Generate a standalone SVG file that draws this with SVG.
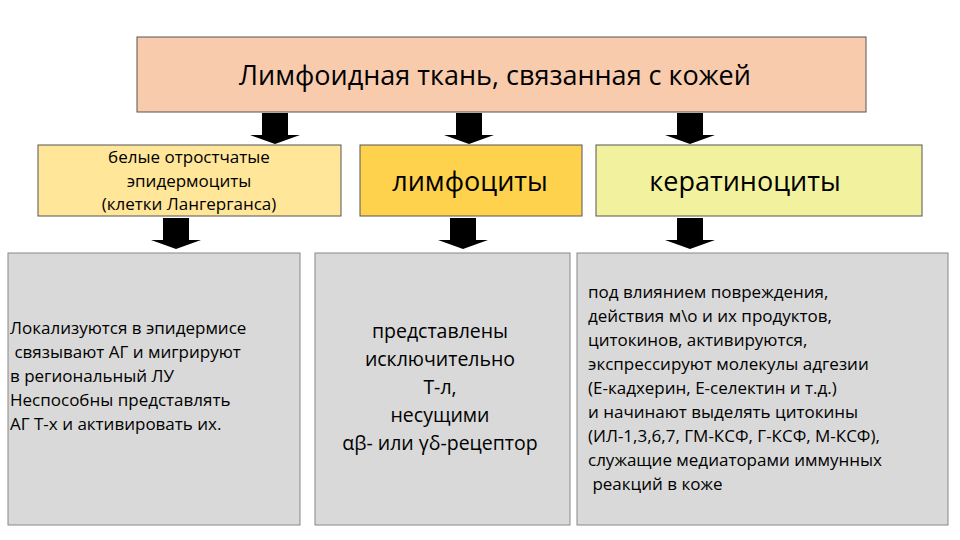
<svg xmlns="http://www.w3.org/2000/svg" width="960" height="540" viewBox="0 0 960 540">
<style>
rect{stroke:#555;stroke-width:1}
text{font-family:"Open Sans","Noto Sans","Liberation Sans",sans-serif;fill:#000}
.g{fill:#D9D9D9;stroke:#888}
.a{fill:#000}
</style>
<defs><path id="ar" d="M-13,0h26v22h12l-25,9l-25,-9h12z" class="a"/></defs>
<rect width="960" height="540" fill="#fff" style="stroke:none"/>
<g id="top"><rect x="137" y="37" width="729" height="75" fill="#F8CBAD"/>
<text x="495" y="85" font-size="27" text-anchor="middle">Лимфоидная ткань, связанная с кожей</text></g>
<g id="connectors">
<use href="#ar" x="275" y="113"/><use href="#ar" x="469" y="113"/><use href="#ar" x="690" y="113"/>
<use href="#ar" x="176" y="218"/><use href="#ar" x="463" y="218"/><use href="#ar" x="690" y="218"/>
</g>
<g id="langerhans"><rect x="38" y="145" width="303" height="71" fill="#FFE699"/>
<text font-size="17" text-anchor="middle"><tspan x="189" y="163">белые отростчатые</tspan><tspan x="189" y="187">эпидермоциты</tspan><tspan x="189" y="210">(клетки Лангерганса)</tspan></text></g>
<g id="lymph"><rect x="360" y="145" width="222" height="71" fill="#FFD24D"/>
<text x="470" y="191" font-size="27" text-anchor="middle">лимфоциты</text></g>
<g id="kerat"><rect x="596" y="145" width="326" height="71" fill="#F2F29E"/>
<text x="745" y="191" font-size="27" text-anchor="middle">кератиноциты</text></g>
<g id="left"><rect class="g" x="8" y="253" width="292" height="272"/>
<text font-size="17"><tspan x="10" y="334">Локализуются в эпидермисе</tspan><tspan x="10" y="358"> связывают АГ и мигрируют</tspan><tspan x="10" y="382">в региональный ЛУ</tspan><tspan x="10" y="406">Неспособны представлять</tspan><tspan x="10" y="430">АГ Т-х и  активировать их.</tspan></text></g>
<g id="mid"><rect class="g" x="315" y="253" width="255" height="272"/>
<text font-size="19.5" text-anchor="middle"><tspan x="440" y="338">представлены</tspan><tspan x="440" y="366">исключительно</tspan><tspan x="440" y="394">Т-л,</tspan><tspan x="440" y="422">несущими</tspan><tspan x="440" y="450">αβ- или γδ-рецептор</tspan></text></g>
<g id="right"><rect class="g" x="577" y="253" width="371" height="272"/>
<text font-size="17"><tspan x="588" y="298">под влиянием повреждения,</tspan><tspan x="588" y="322">действия м\о и их продуктов,</tspan><tspan x="588" y="346">цитокинов, активируются,</tspan><tspan x="588" y="370">экспрессируют молекулы адгезии</tspan><tspan x="588" y="394">(Е-кадхерин, Е-селектин и т.д.)</tspan><tspan x="588" y="418">и начинают выделять цитокины</tspan><tspan x="588" y="442">(ИЛ-1,3,6,7, ГМ-КСФ, Г-КСФ, М-КСФ),</tspan><tspan x="588" y="466">служащие медиаторами иммунных</tspan><tspan x="588" y="490"> реакций в коже</tspan></text></g>
</svg>
